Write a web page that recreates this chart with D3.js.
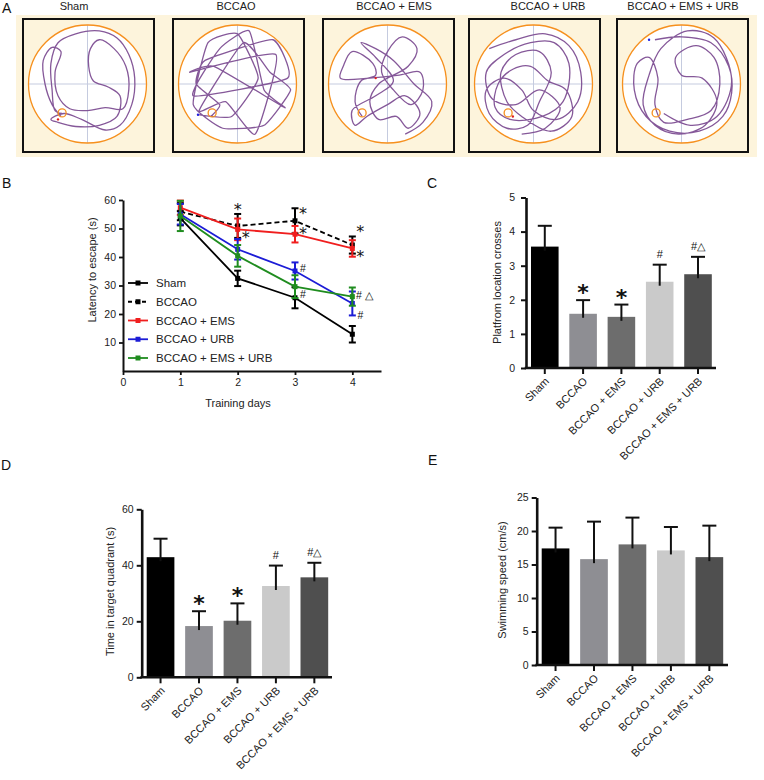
<!DOCTYPE html>
<html><head><meta charset="utf-8">
<script src="https://cdn.jsdelivr.net/npm/d3@7"></script>
<style>body{margin:0;background:#fff}svg{display:block;font-family:"Liberation Sans",Arial,Helvetica,sans-serif}</style>
</head><body><svg id="c" width="764" height="780"></svg>
<script>
// ---------- DATA ----------
const groups = ["Sham", "BCCAO", "BCCAO + EMS", "BCCAO + URB", "BCCAO + EMS + URB"];
const barColors = ["#000000", "#8e8e93", "#6d6d6d", "#cacaca", "#4f4f4f"];
const lineColors = ["#000000", "#000000", "#f01e1e", "#1c1cd6", "#1f8c1f"];

// Panel B: latency to escape (s) by training day
const days = [1, 2, 3, 4];
const latSham = [53.6, 32.5, 25.7, 12.9];
const latSham_err = [2.5, 2.7, 3.7, 2.9];
const latBCCAO = [55.9, 50.9, 52.7, 44.2];
const latBCCAO_err = [3.0, 4.2, 4.4, 3.0];
const latEMS = [57.3, 49.7, 48.0, 43.0];
const latEMS_err = [2.5, 3.8, 2.9, 2.9];
const latURB = [55.0, 42.7, 35.1, 23.7];
const latURB_err = [3.6, 3.6, 3.0, 4.2];
const latEMSURB = [54.4, 40.4, 29.6, 26.1];
const latEMSURB_err = [5.3, 3.8, 4.0, 3.2];
const yTicksB = [10, 20, 30, 40, 50, 60];
const xTicksB = [0, 1, 2, 3, 4];
// significance marks in B: [day, value level, symbol]
const marksB = [[2, 57.6, "*"], [2, 47.7, "*"], [3, 56.1, "*"], [3, 49.2, "*"], [3, 36.2, "#"], [3, 27.0, "#"],
                [4, 49.7, "*"], [4, 41.1, "*"], [4, 26.7, "# \u25B3"], [4, 19.6, "#"]];

// Panel C: platform location crosses
const crosses = [3.56, 1.59, 1.50, 2.53, 2.75];
const crosses_err = [0.61, 0.40, 0.36, 0.50, 0.51];
const yTicksC = [0, 1, 2, 3, 4, 5];
// Panel D: time in target quadrant (s)
const timeTarget = [42.9, 18.3, 20.2, 32.6, 35.7];
const timeTarget_err = [6.6, 5.3, 6.2, 7.3, 5.2];
const yTicksD = [0, 20, 40, 60];
// Panel E: swimming speed (cm/s)
const speed = [17.4, 15.8, 18.0, 17.1, 16.1];
const speed_err = [3.1, 5.6, 4.0, 3.5, 4.7];
const yTicksE = [0, 5, 10, 15, 20, 25];
const marksCD = ["", "*", "*", "#", "#\u25B3"];

// Panel A: swim trajectories (normalized pool coordinates, x right, y down)
const platform = [-0.43, 0.49];
const trajSham = [[-0.45,0.55],[-0.6,0.35],[-0.72,0.0],[-0.75,-0.4],[-0.6,-0.62],[-0.45,-0.55],[-0.55,-0.2],[-0.5,0.2],[-0.3,0.42],[0.0,0.45],[0.3,0.4],[0.6,0.42],[0.7,0.1],[0.65,-0.3],[0.45,-0.6],[0.2,-0.75],[0.05,-0.6],[0.02,-0.3],[0.1,-0.05],[0.35,0.05],[0.55,0.2],[0.5,0.55],[0.2,0.7],[-0.2,0.72],[-0.5,0.65],[-0.62,0.6],[-0.4,0.5],[-0.1,0.6],[0.3,0.78],[0.55,0.7],[0.75,0.35],[0.8,-0.1],[0.7,-0.5],[0.5,-0.78],[0.2,-0.9],[-0.2,-0.85],[-0.5,-0.7],[-0.62,-0.35],[-0.6,0.1],[-0.55,0.45],[-0.43,0.5]];
const trajBCCAO = [[-0.45,0.55],[-0.3,0.35],[-0.7,0.0],[-0.55,-0.4],[0.6,-0.75],[0.85,-0.1],[-0.75,0.2],[-0.3,-0.6],[0.2,-0.9],[0.45,0.1],[0.8,0.4],[-0.4,-0.3],[-0.8,-0.2],[0.65,-0.5],[0.3,0.85],[-0.2,0.3],[-0.65,0.45],[0.1,-0.7],[0.55,-0.2],[0.9,0.1],[0.45,0.7],[-0.25,0.75],[-0.75,0.35],[-0.5,-0.7],[0.0,-0.85],[0.35,-0.1],[-0.1,0.55],[-0.67,0.52]];
const trajEMS = [[-0.43,0.55],[-0.55,0.3],[-0.45,-0.05],[-0.2,-0.15],[-0.25,-0.35],[-0.6,-0.55],[-0.75,-0.3],[-0.8,-0.1],[-0.3,-0.1],[0.2,-0.15],[0.55,-0.2],[0.6,0.1],[0.4,0.35],[0.1,0.1],[-0.1,-0.2],[0.0,-0.55],[0.25,-0.8],[0.5,-0.6],[0.35,-0.3],[-0.15,0.0],[-0.3,0.3],[-0.15,0.6],[0.15,0.55],[0.35,0.75],[0.55,0.5],[0.3,0.2],[0.0,0.35],[-0.35,0.55],[-0.55,0.7],[-0.6,0.45],[-0.2,0.2],[0.1,-0.05],[-0.2,-0.45],[-0.45,-0.7],[-0.2,-0.6],[0.1,-0.4],[0.45,0.0],[0.75,0.3],[0.6,0.65],[0.3,0.85]];
const trajURB = [[-0.75,-0.6],[-0.3,-0.75],[0.2,-0.85],[0.6,-0.65],[0.8,-0.2],[0.75,0.3],[0.4,0.6],[0.0,0.45],[-0.2,0.1],[-0.5,-0.1],[-0.8,0.1],[-0.75,0.5],[-0.45,0.75],[-0.1,0.7],[0.1,0.3],[0.3,-0.2],[0.1,-0.55],[-0.3,-0.5],[-0.55,-0.2],[-0.45,0.3],[-0.2,0.55],[0.3,0.8],[0.65,0.55],[0.55,0.1],[0.25,-0.05],[-0.05,-0.3],[-0.35,-0.25],[-0.6,0.0],[-0.65,0.4],[-0.4,0.6],[0.15,0.55],[0.5,0.3],[0.6,-0.35],[0.35,-0.7],[-0.05,-0.7],[-0.5,-0.5],[-0.8,-0.2],[-0.7,0.25],[-0.3,0.35],[0.1,0.1],[0.45,0.4],[0.2,0.75],[-0.2,0.85]];
const trajEMSURB = [[-0.45,-0.75],[0.0,-0.8],[0.5,-0.7],[0.8,-0.3],[0.85,0.15],[0.7,0.55],[0.3,0.8],[-0.2,0.8],[-0.6,0.55],[-0.8,0.1],[-0.75,-0.35],[-0.55,-0.45],[-0.4,-0.1],[-0.45,0.35],[-0.3,0.65],[0.1,0.6],[0.5,0.45],[0.65,0.0],[0.55,-0.45],[0.25,-0.65],[-0.1,-0.45],[0.0,-0.15],[0.35,-0.1],[0.6,0.3],[0.4,0.7],[-0.05,0.85],[-0.45,0.7],[-0.65,0.35],[-0.55,-0.15],[-0.35,-0.6],[0.1,-0.9],[0.55,-0.78],[0.85,-0.05],[0.6,0.55],[0.15,0.7],[-0.3,0.5]];
const startDots = [[-0.5,0.6],[-0.67,0.52],[-0.2,-0.1],[-0.35,0.55],[-0.55,-0.75]];
const startDotColors = ["#e02020","#2020e0","#e02020","#e02020","#2020e0"];

// ---------- DRAW ----------
const svg = d3.select("#c");
const FONT = '"Liberation Sans", Arial, sans-serif';
const fmt = d3.format("d");

function panelLetter(t, x, y) {
  svg.append("text").attr("x", x).attr("y", y).attr("font-size", 14).attr("fill", "#111").text(t);
}

// ----- Panel A -----
panelLetter("A", 2, 13);
svg.append("rect").attr("x", 16).attr("y", 15).attr("width", 741).attr("height", 142).attr("fill", "#fdf4dc");
const boxLefts = [23, 173, 323, 469, 617];
const titleCenters = [74, 236, 394, 548, 683];
const trajs = [trajSham, trajBCCAO, trajEMS, trajURB, trajEMSURB];
groups.forEach((g, i) => {
  const bx = boxLefts[i], by = 19, bw = 131, bh = 133;
  svg.append("text").attr("x", titleCenters[i]).attr("y", 10).attr("text-anchor", "middle")
    .attr("font-size", 11).attr("fill", "#222").text(g);
  svg.append("rect").attr("x", bx).attr("y", by).attr("width", bw).attr("height", bh)
    .attr("fill", "#fdf4dc").attr("stroke", "#111").attr("stroke-width", 2);
  const cx = bx + bw / 2 - 1, cy = by + bh / 2 - 1.5, r = 59;
  const px = d3.scaleLinear().domain([-1, 1]).range([cx - r, cx + r]);
  const py = d3.scaleLinear().domain([-1, 1]).range([cy - r, cy + r]);
  svg.append("circle").attr("cx", cx).attr("cy", cy).attr("r", r).attr("fill", "#fff");
  svg.append("line").attr("x1", cx).attr("x2", cx).attr("y1", cy - r).attr("y2", cy + r).attr("stroke", "#c5cbdf").attr("stroke-width", 1);
  svg.append("line").attr("x1", cx - r).attr("x2", cx + r).attr("y1", cy).attr("y2", cy).attr("stroke", "#c5cbdf").attr("stroke-width", 1);
  const curve = i === 1 ? d3.curveCardinal.tension(0.55) : d3.curveCatmullRom.alpha(0.5);
  const line = d3.line().curve(curve).x(d => px(d[0])).y(d => py(d[1]));
  svg.append("path").attr("d", line(trajs[i])).attr("fill", "none").attr("stroke", "#7e4f93")
    .attr("stroke-width", 1.3).attr("stroke-opacity", 0.95).attr("stroke-linejoin", "round");
  svg.append("circle").attr("cx", cx).attr("cy", cy).attr("r", r).attr("fill", "none").attr("stroke", "#f6901e").attr("stroke-width", 1.3);
  svg.append("circle").attr("cx", px(platform[0])).attr("cy", py(platform[1])).attr("r", 4)
    .attr("fill", "none").attr("stroke", "#f6901e").attr("stroke-width", 1.3);
  svg.append("circle").attr("cx", px(startDots[i][0])).attr("cy", py(startDots[i][1])).attr("r", 1.2).attr("fill", startDotColors[i]);
});

// ----- Panel B -----
panelLetter("B", 2, 188);
const xB = d3.scaleLinear().domain([0, 4.5]).range([123, 381]);
const yB = d3.scaleLinear().domain([0, 60]).range([371, 200]);
const gB = svg.append("g");
const axYB = gB.append("g").attr("transform", "translate(123,0)")
  .call(d3.axisLeft(yB).tickValues(yTicksB).tickFormat(fmt).tickSize(4).tickSizeOuter(0).tickPadding(3));
const axXB = gB.append("g").attr("transform", "translate(0,371)")
  .call(d3.axisBottom(xB).tickValues(xTicksB).tickFormat(fmt).tickSize(4).tickSizeOuter(0).tickPadding(4));
[axYB, axXB].forEach(a => {
  a.select(".domain").attr("stroke", "#111").attr("stroke-width", 2);
  a.selectAll(".tick line").attr("stroke", "#111").attr("stroke-width", 1.8);
  a.selectAll("text").attr("font-size", 10.5).attr("font-family", FONT).attr("fill", "#222");
});
gB.append("text").attr("transform", "translate(96,270) rotate(-90)").attr("text-anchor", "middle")
  .attr("font-size", 11).attr("fill", "#222").text("Latency to escape (s)");
gB.append("text").attr("x", 238).attr("y", 406.5).attr("text-anchor", "middle")
  .attr("font-size", 11).attr("fill", "#222").text("Training days");

const seriesB = [
  {name: groups[0], v: latSham, e: latSham_err, c: lineColors[0], dash: null},
  {name: groups[1], v: latBCCAO, e: latBCCAO_err, c: lineColors[1], dash: "5,3"},
  {name: groups[2], v: latEMS, e: latEMS_err, c: lineColors[2], dash: null},
  {name: groups[3], v: latURB, e: latURB_err, c: lineColors[3], dash: null},
  {name: groups[4], v: latEMSURB, e: latEMSURB_err, c: lineColors[4], dash: null}
];
const lineB = d3.line().x((d, i) => xB(days[i])).y(d => yB(d));
seriesB.forEach(s => {
  const g = gB.append("g");
  g.append("path").attr("d", lineB(s.v)).attr("fill", "none").attr("stroke", s.c)
    .attr("stroke-width", 1.8).attr("stroke-dasharray", s.dash);
  s.v.forEach((v, i) => {
    const x = xB(days[i]);
    const y1 = yB(v + s.e[i]), y2 = yB(v - s.e[i]);
    g.append("line").attr("x1", x).attr("x2", x).attr("y1", y1).attr("y2", y2).attr("stroke", s.c).attr("stroke-width", 2);
    [y1, y2].forEach(yy => g.append("line").attr("x1", x - 3.5).attr("x2", x + 3.5).attr("y1", yy).attr("y2", yy)
      .attr("stroke", s.c).attr("stroke-width", 2));
    g.append("rect").attr("x", x - 2.5).attr("y", yB(v) - 2.5).attr("width", 5).attr("height", 5).attr("fill", s.c);
  });
});
marksB.forEach((m, k) => {
  const star = m[2] === "*";
  const fs = star ? 16 : 10.5;
  const off = k === 0 ? 0 : (m[2].length > 1 ? 12 : 8);
  gB.append("text").attr("x", xB(m[0]) + off)
    .attr("y", yB(m[1]) + (star ? 0.5 * fs : 0.36 * fs))
    .attr("text-anchor", "middle").attr("font-size", fs)
    .attr("font-family", star ? '"DejaVu Sans", sans-serif' : FONT).attr("fill", "#111").text(m[2]);
});
// legend B
const legY = d3.scalePoint().domain(groups).range([283, 358]);
seriesB.forEach(s => {
  const y = legY(s.name);
  gB.append("line").attr("x1", 128).attr("x2", 148).attr("y1", y).attr("y2", y).attr("stroke", s.c)
    .attr("stroke-width", 1.8).attr("stroke-dasharray", s.dash ? "4,3" : null);
  gB.append("rect").attr("x", 135.5).attr("y", y - 2.5).attr("width", 5).attr("height", 5).attr("fill", s.c);
  gB.append("text").attr("x", 156).attr("y", y + 4).attr("font-size", 11.5).attr("fill", "#222").text(s.name);
});

// ----- bar chart helper -----
function barChart(o) {
  const g = svg.append("g");
  const x = d3.scaleBand().domain(groups).range(o.xr).paddingInner(0.28).paddingOuter(0);
  const y = d3.scaleLinear().domain(o.yd).range(o.yr);
  const ay = g.append("g").attr("transform", `translate(${o.ax},0)`)
    .call(d3.axisLeft(y).tickValues(o.ticks).tickFormat(fmt).tickSize(5).tickSizeOuter(0).tickPadding(o.pad || 4));
  ay.select(".domain").attr("stroke", "#111").attr("stroke-width", 2.6);
  ay.selectAll(".tick line").attr("stroke", "#111").attr("stroke-width", 2);
  ay.selectAll("text").attr("font-size", 10.5).attr("font-family", FONT).attr("fill", "#222");
  const y0 = y(0);
  g.selectAll("rect.bar").data(o.vals).enter().append("rect").attr("class", "bar")
    .attr("x", (d, i) => x(groups[i])).attr("width", x.bandwidth())
    .attr("y", d => y(d)).attr("height", d => y0 - y(d)).attr("fill", (d, i) => barColors[i]);
  o.vals.forEach((v, i) => {
    const cx = x(groups[i]) + x.bandwidth() / 2;
    const top = y(v + o.errs[i]);
    g.append("line").attr("x1", cx).attr("x2", cx).attr("y1", y(v) + 4).attr("y2", top).attr("stroke", "#111").attr("stroke-width", 2);
    g.append("line").attr("x1", cx - 7).attr("x2", cx + 7).attr("y1", top).attr("y2", top).attr("stroke", "#111").attr("stroke-width", 2);
    g.append("line").attr("x1", cx).attr("x2", cx).attr("y1", y0).attr("y2", y0 + 6).attr("stroke", "#111").attr("stroke-width", 2);
    g.append("text").attr("text-anchor", "end").attr("font-size", 11).attr("fill", "#222")
      .attr("transform", `translate(${cx + 5},${y0 + 14}) rotate(-45)`).text(groups[i]);
    if (o.marks && o.marks[i]) {
      const m = o.marks[i];
      const star = m === "*";
      const c = top - 11;
      g.append("text").attr("x", cx).attr("y", star ? c + 11 : c + 4)
        .attr("text-anchor", "middle").attr("font-size", star ? 22 : 11).attr("font-weight", star ? "bold" : "normal")
        .attr("font-family", star ? '"DejaVu Sans", sans-serif' : FONT).attr("fill", "#111").text(m);
    }
  });
  g.append("line").attr("x1", o.ax - 1.3).attr("x2", o.xend).attr("y1", y0).attr("y2", y0).attr("stroke", "#111").attr("stroke-width", 2.6);
  g.append("text").attr("transform", `translate(${o.tx},${o.ty}) rotate(-90)`).attr("text-anchor", "middle")
    .attr("font-size", 11).attr("fill", "#222").text(o.title);
}

// ----- Panel C -----
panelLetter("C", 427, 188);
barChart({vals: crosses, errs: crosses_err, marks: marksCD, xr: [531, 711.8], yd: [0, 5], yr: [368, 197.5],
  ax: 526, xend: 716, ticks: yTicksC, pad: 6, title: "Platfrom location crosses", tx: 500.5, ty: 282.5});
// ----- Panel D -----
panelLetter("D", 1, 470);
barChart({vals: timeTarget, errs: timeTarget_err, marks: marksCD, xr: [146.7, 328.2], yd: [0, 60], yr: [677.3, 509.3],
  ax: 141.7, xend: 332, ticks: yTicksD, pad: 3, title: "Time in target quadrant (s)", tx: 114, ty: 591.5});
// ----- Panel E -----
panelLetter("E", 428, 465);
barChart({vals: speed, errs: speed_err, marks: null, xr: [541.7, 723.2], yd: [0, 25], yr: [665, 497.5],
  ax: 536.7, xend: 728, ticks: yTicksE, pad: 3, title: "Swimming speed (cm/s)", tx: 505.5, ty: 580});
</script></body></html>
